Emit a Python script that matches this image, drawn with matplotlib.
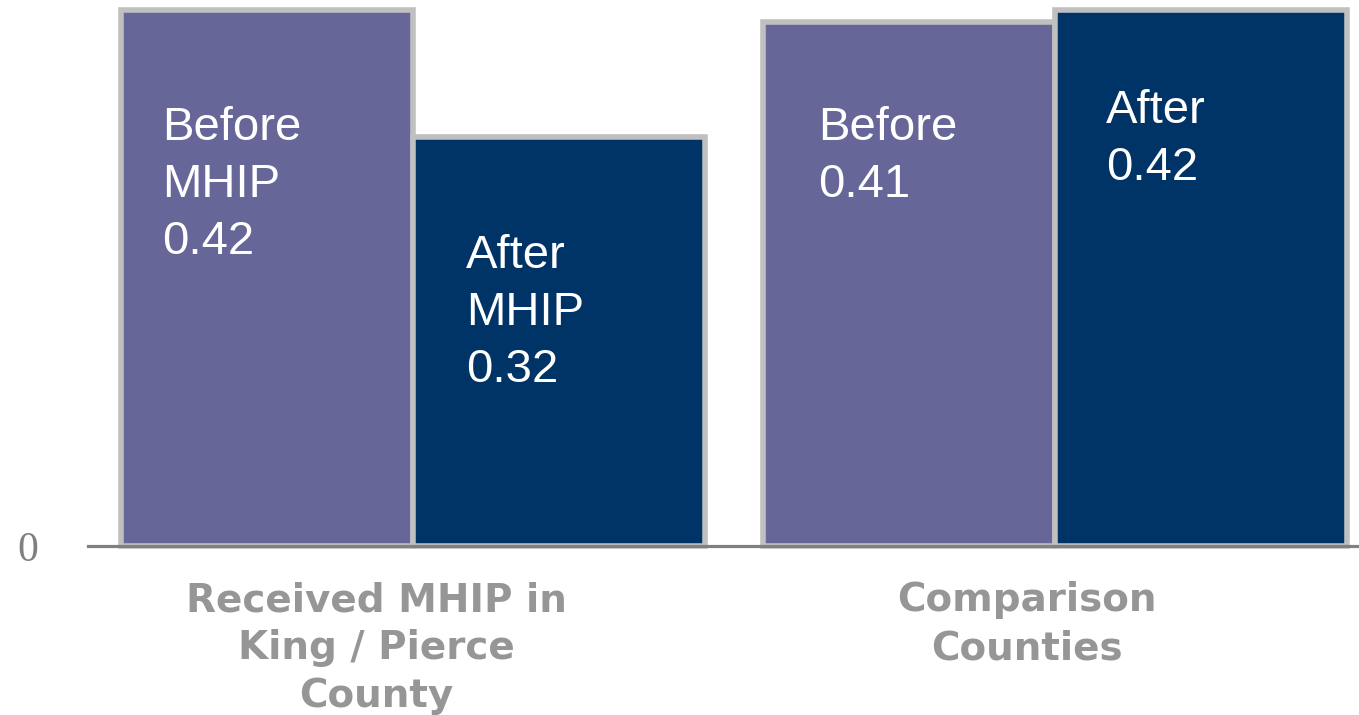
import matplotlib
matplotlib.use("Agg")
import matplotlib.pyplot as plt
from matplotlib.transforms import offset_copy

# Data
groups = ["Received MHIP in\nKing / Pierce\nCounty", "Comparison\nCounties"]
before_vals = [0.42, 0.41]
after_vals = [0.32, 0.42]
before_names = ["Before\nMHIP", "Before"]
after_names = ["After\nMHIP", "After"]

BEFORE_COLOR = "#666699"
AFTER_COLOR = "#003366"
EDGE_COLOR = "#c0c0c0"
LABEL_GREY = "#969696"

fig = plt.figure(figsize=(13.59, 7.15), dpi=100)
ax = fig.add_axes([88 / 1359, 169 / 715, 1 - 88 / 1359, 546 / 715])

group_x = [0.0, 2.2]
width = 1.0
bx = [g - width / 2 for g in group_x]
axx = [g + width / 2 for g in group_x]

ax.bar(bx, before_vals, width=width, color=BEFORE_COLOR,
       edgecolor=EDGE_COLOR, linewidth=4.0, clip_on=False, zorder=2)
ax.bar(axx, after_vals, width=width, color=AFTER_COLOR,
       edgecolor=EDGE_COLOR, linewidth=4.0, clip_on=False, zorder=2)

ax.set_xlim(-1.113, 3.24)
ax.set_ylim(0, 546 / 1277)

# In-bar labels: name plus value, positioned in figure pixels
text_pos_b = [(162, 715 - 106), (818, 715 - 106)]
text_pos_a = [(466, 715 - 234), (1106, 715 - 89)]
for name, v, pos in zip(before_names, before_vals, text_pos_b):
    ax.annotate(f"{name}\n{v:.2f}", xy=pos, xycoords="figure pixels",
                ha="left", va="top", color="white", fontsize=34,
                family="Liberation Sans", linespacing=1.38, zorder=3)
for name, v, pos in zip(after_names, after_vals, text_pos_a):
    ax.annotate(f"{name}\n{v:.2f}", xy=pos, xycoords="figure pixels",
                ha="left", va="top", color="white", fontsize=34,
                family="Liberation Sans", linespacing=1.38, zorder=3)

# Axes styling
for s in ["top", "right", "left"]:
    ax.spines[s].set_visible(False)
ax.spines["bottom"].set_color("#808080")
ax.spines["bottom"].set_linewidth(2.3)
ax.spines["bottom"].set_zorder(4)

# Category labels below the axis
ax.set_xticks([])
label_shift = [-37, -28]
for g, name, dx in zip(group_x, groups, label_shift):
    tr = offset_copy(ax.get_xaxis_transform(), fig=fig, x=dx, y=-35, units="dots")
    ax.text(g, 0, name, transform=tr, ha="center", va="top",
            fontsize=28, fontweight="bold", color=LABEL_GREY,
            family="DejaVu Sans", linespacing=1.34, clip_on=False)

ax.set_yticks([0])
ax.set_yticklabels(["0"], fontsize=30, color="#808080", family="Liberation Serif")
ax.tick_params(axis="y", length=0, pad=36)

fig.savefig("out.png", dpi=100)
